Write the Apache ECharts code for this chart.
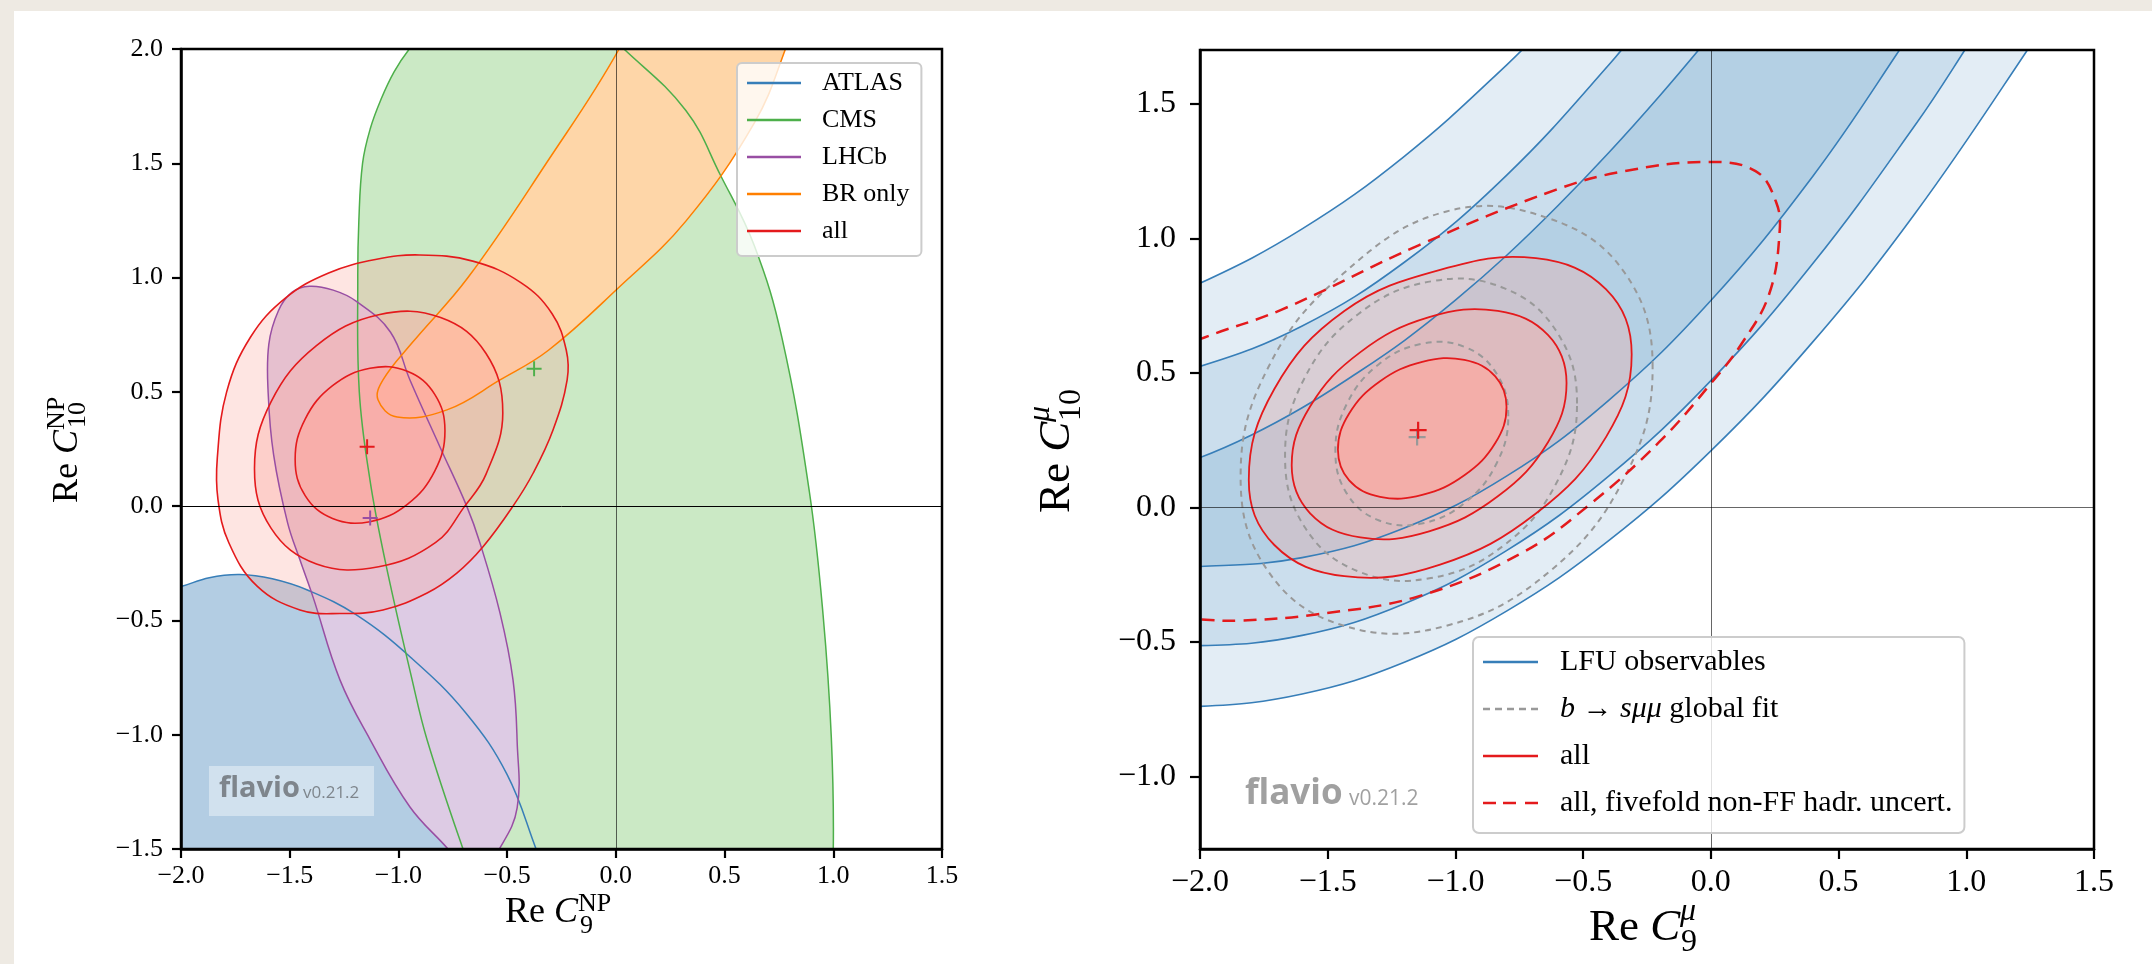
<!DOCTYPE html>
<html><head><meta charset="utf-8">
<script src="https://cdn.jsdelivr.net/npm/echarts@6/dist/echarts.min.js"></script>
<style>
html,body{margin:0;padding:0;background:#eeeae3;width:2152px;height:964px;overflow:hidden;}
#panel{position:absolute;left:14px;top:11px;width:2138px;height:953px;background:#ffffff;}
#chart{position:absolute;left:0;top:0;width:2152px;height:964px;}
</style></head><body>
<div id="panel"></div>
<div id="chart"></div>
<script>
// ---------------- data ----------------
const xTicks = [-2.0, -1.5, -1.0, -0.5, 0.0, 0.5, 1.0, 1.5];
const yTicksLeft = [-1.5, -1.0, -0.5, 0.0, 0.5, 1.0, 1.5, 2.0];
const yTicksRight = [-1.0, -0.5, 0.0, 0.5, 1.0, 1.5];

// left panel contours (Re C9NP, Re C10NP); points outside the frame only close the clipped shapes
const atlasContour = [[-2.3,-0.43],[-2.0,-0.352],[-1.87,-0.313],[-1.73,-0.299],[-1.58,-0.318],[-1.416,-0.368],[-1.195,-0.475],[-0.942,-0.663],[-0.689,-0.906],[-0.5,-1.175],[-0.367,-1.5],[-0.25,-1.8],[-2.3,-1.8]];
const cmsContour = [[-0.55,2.3],[-0.8,2.17],[-0.95,2.0],[-1.02,1.9],[-1.08,1.78],[-1.13,1.65],[-1.165,1.5],[-1.182,1.25],[-1.187,1.0],[-1.18,0.5],[-1.131,0.115],[-1.062,-0.235],[-0.937,-0.76],[-0.868,-1.023],[-0.703,-1.5],[-0.55,-1.9],[0.3,-2.3],[0.98,-1.9],[1.0,-1.5],[0.991,-1.013],[0.953,-0.475],[0.89,0.063],[0.764,0.736],[0.637,1.139],[0.48,1.45],[0.322,1.731],[0.037,2.0],[-0.2,2.2]];
const lhcbContour = [[-1.409,0.962],[-1.30,0.945],[-1.195,0.897],[-1.037,0.762],[-0.947,0.552],[-0.809,0.259],[-0.686,0.0],[-0.625,-0.161],[-0.533,-0.467],[-0.473,-0.76],[-0.454,-1.03],[-0.454,-1.32],[-0.533,-1.495],[-0.65,-1.64],[-0.772,-1.5],[-0.947,-1.316],[-1.131,-1.02],[-1.269,-0.76],[-1.393,-0.397],[-1.453,-0.235],[-1.51,-0.072],[-1.574,0.224],[-1.599,0.493],[-1.596,0.709],[-1.552,0.855],[-1.49,0.935]];
const brContour = [[-1.094,0.465],[-1.071,0.552],[-0.942,0.709],[-0.68,1.0],[-0.32,1.5],[0.015,2.0],[0.15,2.3],[0.9,2.35],[0.78,2.0],[0.637,1.677],[0.322,1.247],[0.006,0.95],[-0.31,0.682],[-0.533,0.552],[-0.777,0.421],[-1.006,0.39]];
const allLeft3 = [[-1.833,0.211],[-1.79,0.5],[-1.68,0.74],[-1.52,0.91],[-1.321,1.02],[-1.1,1.08],[-0.904,1.099],[-0.658,1.072],[-0.437,0.978],[-0.294,0.843],[-0.228,0.682],[-0.224,0.552],[-0.289,0.333],[-0.38,0.145],[-0.473,0.0],[-0.611,-0.178],[-0.73,-0.292],[-0.868,-0.38],[-1.071,-0.454],[-1.269,-0.47],[-1.453,-0.454],[-1.65,-0.35],[-1.78,-0.16],[-1.83,0.03]];
const allLeft2 = [[-0.52,0.408],[-0.597,0.668],[-0.806,0.825],[-1.091,0.837],[-1.377,0.702],[-1.586,0.456],[-1.662,0.164],[-1.586,-0.096],[-1.377,-0.253],[-1.091,-0.265],[-0.83,-0.16],[-0.695,0.0],[-0.597,0.14]];
const allLeft1 = [[-0.786,0.33],[-0.833,0.489],[-0.959,0.59],[-1.131,0.603],[-1.303,0.527],[-1.429,0.381],[-1.475,0.205],[-1.429,0.046],[-1.303,-0.054],[-1.131,-0.068],[-0.959,0.008],[-0.833,0.153]];
const bestFitLeft = [[-1.144,0.26]];
const bestLHCb = [[-1.13,-0.052]];
const bestCMS = [[-0.376,0.601]];

// right panel contours (Re C9mu, Re C10mu)
const lfuA = [[-2.3,0.727],[-2.0,0.833],[-1.6,1.035],[-1.2,1.305],[-0.8,1.644],[-0.6,1.839],[-0.4,2.05]];
const lfuB = [[-2.3,0.468],[-2.0,0.524],[-1.6,0.674],[-1.2,0.911],[-0.8,1.234],[-0.4,1.644],[-0.2,1.881]];
const lfuC = [[-2.3,0.09],[-2.0,0.185],[-1.8,0.268],[-1.6,0.37],[-1.4,0.49],[-1.2,0.62],[-1.0,0.77],[-0.8,0.936],[-0.6,1.12],[-0.4,1.318],[-0.2,1.53],[0.0,1.755],[0.2,1.99]];
const lfuD = [[-2.3,-0.22],[-2.0,-0.22],[-1.6,-0.187],[-1.2,-0.077],[-0.8,0.116],[-0.4,0.398],[0.0,0.769],[0.4,1.232],[0.739,1.701],[0.9,1.944]];
const lfuE = [[-2.3,-0.49],[-2.0,-0.514],[-1.6,-0.476],[-1.2,-0.358],[-0.8,-0.161],[-0.4,0.116],[0.0,0.471],[0.4,0.907],[0.8,1.421],[0.995,1.701],[1.15,1.937]];
const lfuF = [[-2.3,-0.728],[-2.0,-0.74],[-1.6,-0.694],[-1.2,-0.576],[-0.8,-0.386],[-0.4,-0.124],[0.0,0.21],[0.4,0.616],[0.8,1.093],[1.24,1.701],[1.4,1.944]];
const globalFit3 = [[-0.228,0.52],[-0.336,0.87],[-0.631,1.073],[-1.035,1.10],[-1.438,0.87],[-1.733,0.52],[-1.841,0.114],[-1.733,-0.238],[-1.438,-0.44],[-1.035,-0.44],[-0.631,-0.238],[-0.336,0.114]];
const globalFit2 = [[-0.524,0.386],[-0.601,0.649],[-0.81,0.815],[-1.096,0.84],[-1.381,0.718],[-1.591,0.48],[-1.667,0.191],[-1.591,-0.072],[-1.381,-0.238],[-1.096,-0.263],[-0.81,-0.141],[-0.601,0.097]];
const globalFit1 = [[-0.793,0.339],[-0.839,0.497],[-0.963,0.596],[-1.132,0.608],[-1.301,0.531],[-1.425,0.385],[-1.47,0.209],[-1.425,0.051],[-1.301,-0.048],[-1.132,-0.06],[-0.963,0.017],[-0.839,0.163]];
const allRight3 = [[-0.31,0.568],[-0.41,0.81],[-0.685,0.926],[-1.06,0.883],[-1.435,0.73],[-1.709,0.44],[-1.809,0.102],[-1.709,-0.14],[-1.435,-0.256],[-1.06,-0.213],[-0.685,-0.023],[-0.41,0.262]];
const allRight2 = [[-0.565,0.462],[-0.637,0.64],[-0.834,0.73],[-1.103,0.707],[-1.372,0.577],[-1.569,0.375],[-1.641,0.156],[-1.569,-0.022],[-1.372,-0.112],[-1.103,-0.089],[-0.834,0.041],[-0.637,0.243]];
const allRight1 = [[-0.80,0.373],[-0.844,0.487],[-0.965,0.548],[-1.13,0.541],[-1.295,0.469],[-1.416,0.349],[-1.46,0.214],[-1.416,0.10],[-1.295,0.039],[-1.13,0.046],[-0.965,0.119],[-0.844,0.239]];
const allFivefold = [[-2.3,0.5],[-2.0,0.625],[-1.68,0.735],[-1.142,0.975],[-0.605,1.181],[-0.336,1.25],[-0.013,1.284],[0.175,1.25],[0.255,1.136],[0.269,1.021],[0.228,0.792],[0.121,0.609],[0.0,0.46],[-0.202,0.243],[-0.47,0.014],[-0.739,-0.169],[-1.142,-0.33],[-1.546,-0.398],[-1.841,-0.421],[-2.0,-0.417],[-2.3,-0.40]];
const bestFitRight = [[-1.146,0.287]];
const bestGlobal = [[-1.15,0.261]];

const legendLeftNames = ['ATLAS', 'CMS', 'LHCb', 'BR only', 'all'];
const legendRightNames = ['LFU observables', 'b \u2192 s\u03bc\u03bc global fit', 'all', 'all, fivefold non-FF hadr. uncert.'];

// ---------------- styling ----------------
const FONT = "'Liberation Serif','DejaVu Serif',serif";
const SANS = "'Open Sans','Noto Sans',sans-serif";
const C_BLUE = '#377eb8', C_GREEN = '#4daf4a', C_PURPLE = '#984ea3', C_ORANGE = '#ff7f00', C_RED = '#e41a1c', C_GRAY = '#999999';
const RED_FILL = [252, 168, 160];
const rf = a => 'rgba(' + RED_FILL.join(',') + ',' + a + ')';
const fmt = v => (Math.round(v * 10) / 10).toFixed(1).replace('-', '\u2212');
const PLUS = 'path://M-0.13,-1H0.13V1H-0.13Z M-1,-0.13H1V0.13H-1Z';
const ICON_SOLID = 'path://M0,0H55V2.6H0Z';
const ICON_DASH = 'path://M0,0H13V2.6H0Z M20,0H33V2.6H20Z M42,0H55V2.6H42Z';
const ICON_DOT = 'path://M0,0H7V2.6H0Z M12,0H19V2.6H12Z M24,0H31V2.6H24Z M36,0H43V2.6H36Z M48,0H55V2.6H48Z';

function shape(gi, pts, kind, style, z, name) {
  return {
    type: 'custom', name: name, xAxisIndex: gi, yAxisIndex: gi, z: z, clip: true, silent: true,
    data: [[0, 0]],
    renderItem: function (params, api) {
      return { type: kind, shape: { points: pts.map(p => api.coord(p)), smooth: 0.4 }, style: style };
    }
  };
}
const fill = c => ({ fill: c, stroke: null, lineWidth: 0 });
const line = (c, w, dash) => ({ fill: null, stroke: c, lineWidth: w, lineDash: dash || null });
function band(up, low) { return up.concat(low.slice().reverse()); }
function markers(gi, pts, color, size, z) {
  return { type: 'scatter', xAxisIndex: gi, yAxisIndex: gi, silent: true, z: z, symbol: PLUS, symbolSize: size,
    itemStyle: { color: color, opacity: 1 }, data: pts };
}
function zeroLines(gi, hColor, vColor) {
  return { type: 'line', xAxisIndex: gi, yAxisIndex: gi, data: [], silent: true, z: 4,
    markLine: { silent: true, symbol: 'none', label: { show: false }, animation: false,
      data: [ { yAxis: 0, lineStyle: { color: hColor, width: 1, type: 'solid' } },
              { xAxis: 0, lineStyle: { color: vColor, width: 1, type: 'solid' } } ] } };
}
function axisX(gi, labelSize, margin, tickLen) {
  return { type: 'value', gridIndex: gi, min: -2, max: 1.5, interval: 0.5, z: 10,
    axisLine: { show: true, onZero: false, lineStyle: { color: '#000', width: 2.5 } },
    axisTick: { show: true, inside: false, length: tickLen, lineStyle: { color: '#000', width: 2.2 } },
    axisLabel: { fontFamily: FONT, fontSize: labelSize, color: '#000', margin: margin, formatter: fmt },
    splitLine: { show: false } };
}

const series = [
  // left: filled regions
  shape(0, atlasContour, 'polygon', fill('#b3cde3'), 1),
  shape(0, cmsContour, 'polygon', fill('#cbe9c5'), 1),
  shape(0, lhcbContour, 'polygon', fill('#ddcbe4'), 1),
  shape(0, brContour, 'polygon', fill('#fed6a8'), 1),
  shape(0, allLeft3, 'polygon', fill(rf(0.3)), 2),
  shape(0, allLeft2, 'polygon', fill(rf(0.36)), 2),
  shape(0, allLeft1, 'polygon', fill(rf(0.67)), 2),
  // left: contour lines
  shape(0, atlasContour, 'polygon', line(C_BLUE, 1.5), 3, 'ATLAS'),
  shape(0, cmsContour, 'polygon', line(C_GREEN, 1.5), 3, 'CMS'),
  shape(0, lhcbContour, 'polygon', line(C_PURPLE, 1.5), 3, 'LHCb'),
  shape(0, brContour, 'polygon', line(C_ORANGE, 1.5), 3, 'BR only'),
  shape(0, allLeft3, 'polygon', line(C_RED, 1.6), 3, 'all'),
  shape(0, allLeft2, 'polygon', line(C_RED, 1.6), 3, 'all'),
  shape(0, allLeft1, 'polygon', line(C_RED, 1.6), 3, 'all'),
  zeroLines(0, '#000', 'rgba(0,0,0,0.6)'),
  markers(0, bestCMS, C_GREEN, 15, 5),
  markers(0, bestLHCb, C_PURPLE, 15, 5),
  markers(0, bestFitLeft, C_RED, 15, 5),

  // right: LFU bands
  shape(1, band(lfuA, lfuF), 'polygon', fill('rgba(55,126,184,0.14)'), 1),
  shape(1, band(lfuB, lfuE), 'polygon', fill('rgba(55,126,184,0.14)'), 1),
  shape(1, band(lfuC, lfuD), 'polygon', fill('rgba(55,126,184,0.15)'), 1),
  shape(1, allRight3, 'polygon', fill(rf(0.3)), 2),
  shape(1, allRight2, 'polygon', fill(rf(0.36)), 2),
  shape(1, allRight1, 'polygon', fill(rf(0.7)), 2),
  shape(1, lfuA, 'polyline', line(C_BLUE, 1.6), 3, 'LFU observables'),
  shape(1, lfuB, 'polyline', line(C_BLUE, 1.6), 3, 'LFU observables'),
  shape(1, lfuC, 'polyline', line(C_BLUE, 1.6), 3, 'LFU observables'),
  shape(1, lfuD, 'polyline', line(C_BLUE, 1.6), 3, 'LFU observables'),
  shape(1, lfuE, 'polyline', line(C_BLUE, 1.6), 3, 'LFU observables'),
  shape(1, lfuF, 'polyline', line(C_BLUE, 1.6), 3, 'LFU observables'),
  shape(1, globalFit3, 'polygon', line(C_GRAY, 2, [6, 5]), 3, legendRightNames[1]),
  shape(1, globalFit2, 'polygon', line(C_GRAY, 2, [6, 5]), 3, legendRightNames[1]),
  shape(1, globalFit1, 'polygon', line(C_GRAY, 2, [6, 5]), 3, legendRightNames[1]),
  shape(1, allRight3, 'polygon', line(C_RED, 1.8), 3, 'all'),
  shape(1, allRight2, 'polygon', line(C_RED, 1.8), 3, 'all'),
  shape(1, allRight1, 'polygon', line(C_RED, 1.8), 3, 'all'),
  shape(1, allFivefold, 'polygon', line(C_RED, 2.5, [13, 8]), 3, legendRightNames[3]),
  zeroLines(1, 'rgba(0,0,0,0.6)', 'rgba(0,0,0,0.6)'),
  markers(1, bestGlobal, C_GRAY, 17, 5),
  markers(1, bestFitRight, C_RED, 17, 5)
];

function title(x, y, rot, mainSize, subSize, mainW, sup, sub, supDy, subDy, subDx) {
  const base = { fontFamily: FONT, fill: '#000', verticalAlign: 'middle', align: 'left' };
  return { type: 'group', x: x, y: y, rotation: rot, z: 20, silent: true, children: [
    { type: 'text', x: 0, y: 0, style: Object.assign({}, base, { text: '{r|Re }{c|C}', fontSize: mainSize,
        rich: { r: { fontFamily: FONT, fontSize: mainSize, fill: '#000' }, c: { fontFamily: FONT, fontSize: mainSize, fontStyle: 'italic', fill: '#000' } } }) },
    { type: 'text', x: mainW, y: supDy, style: Object.assign({}, base, { text: sup, fontSize: subSize, fontStyle: sup === '\u03bc' ? 'italic' : 'normal' }) },
    { type: 'text', x: mainW + subDx, y: subDy, style: Object.assign({}, base, { text: sub, fontSize: subSize }) }
  ] };
}

const option = {
  backgroundColor: 'transparent',
  animation: false,
  grid: [
    { left: 181, top: 49, width: 761, height: 800, show: true, borderColor: '#000', borderWidth: 2.5, backgroundColor: 'rgba(0,0,0,0)', z: 10 },
    { left: 1200, top: 50, width: 894, height: 799, show: true, borderColor: '#000', borderWidth: 2.5, backgroundColor: 'rgba(0,0,0,0)', z: 10 }
  ],
  xAxis: [ axisX(0, 26, 14, 9), axisX(1, 32, 18, 10) ],
  yAxis: [
    { type: 'value', gridIndex: 0, min: -1.5, max: 2.0, interval: 0.5, z: 10,
      axisLine: { show: true, onZero: false, lineStyle: { color: '#000', width: 2.5 } },
      axisTick: { show: true, length: 9, lineStyle: { color: '#000', width: 2.2 } },
      axisLabel: { fontFamily: FONT, fontSize: 26, color: '#000', margin: 18, formatter: fmt },
      splitLine: { show: false } },
    { type: 'value', gridIndex: 1, min: -1.27, max: 1.7, z: 10,
      axisLine: { show: true, onZero: false, lineStyle: { color: '#000', width: 2.5 } },
      axisTick: { show: true, length: 10, customValues: yTicksRight, lineStyle: { color: '#000', width: 2.2 } },
      axisLabel: { fontFamily: FONT, fontSize: 32, color: '#000', margin: 24, customValues: yTicksRight, formatter: fmt },
      splitLine: { show: false } }
  ],
  legend: [
    { left: 737, top: 63, orient: 'vertical', selectedMode: false, z: 20,
      backgroundColor: 'rgba(255,255,255,0.8)', borderColor: '#cccccc', borderWidth: 2, borderRadius: 5,
      padding: [5, 12, 10, 10], itemGap: 7, itemWidth: 54, itemHeight: 2.6, symbolKeepAspect: false,
      textStyle: { fontFamily: FONT, fontSize: 26, color: '#000', lineHeight: 30, padding: [0, 0, 0, 16] },
      data: legendLeftNames.map((n, i) => ({ name: n, icon: ICON_SOLID,
        itemStyle: { color: [C_BLUE, C_GREEN, C_PURPLE, C_ORANGE, C_RED][i], borderWidth: 0 } })) },
    { left: 1473, top: 637, orient: 'vertical', selectedMode: false, z: 20,
      backgroundColor: 'rgba(255,255,255,0.8)', borderColor: '#cccccc', borderWidth: 2, borderRadius: 6,
      padding: [7, 12, 12, 10], itemGap: 11, itemWidth: 55, itemHeight: 2.6, symbolKeepAspect: false,
      textStyle: { fontFamily: FONT, fontSize: 30, color: '#000', lineHeight: 36, padding: [0, 0, 0, 17],
        rich: { i: { fontFamily: FONT, fontSize: 30, fontStyle: 'italic', color: '#000', lineHeight: 36 } } },
      formatter: n => n === legendRightNames[1] ? '{i|b} \u2192 {i|s\u03bc\u03bc} global fit' : n,
      data: legendRightNames.map((n, i) => ({ name: n, icon: [ICON_SOLID, ICON_DOT, ICON_SOLID, ICON_DASH][i],
        itemStyle: { color: [C_BLUE, C_GRAY, C_RED, C_RED][i], borderWidth: 0 } })) }
  ],
  graphic: [
    { type: 'rect', z: 15, silent: true, shape: { x: 209, y: 766, width: 165, height: 50 }, style: { fill: 'rgba(255,255,255,0.4)' } },
    { type: 'text', z: 16, silent: true, x: 219, y: 789, style: { text: 'flavio', fontFamily: SANS, fontWeight: 'bold', fontSize: 29, fill: 'rgba(105,110,115,0.8)', verticalAlign: 'middle' } },
    { type: 'text', z: 16, silent: true, x: 303, y: 793, style: { text: 'v0.21.2', fontFamily: SANS, fontSize: 17, fill: 'rgba(105,110,115,0.8)', verticalAlign: 'middle' } },
    { type: 'text', z: 16, silent: true, x: 1245, y: 794, style: { text: 'flavio', fontFamily: SANS, fontWeight: 'bold', fontSize: 35, fill: 'rgba(120,120,120,0.7)', verticalAlign: 'middle' } },
    { type: 'text', z: 16, silent: true, x: 1349, y: 799, style: { text: 'v0.21.2', fontFamily: SANS, fontSize: 21, fill: 'rgba(120,120,120,0.7)', verticalAlign: 'middle' } },
    title(505, 913, 0, 36, 26, 73, 'NP', '9', -9, 13, 2),
    title(68, 503, Math.PI / 2, 36, 26, 73, 'NP', '10', -11, 10, 2),
    title(1589, 928, 0, 45, 32, 91, '\u03bc', '9', -16, 15, 1),
    title(1057, 513, Math.PI / 2, 45, 32, 91, '\u03bc', '10', -16, 15, 1)
  ],
  series: series
};

const chart = echarts.init(document.getElementById('chart'), null, { renderer: 'canvas', width: 2152, height: 964 });
chart.setOption(option);
</script></body></html>
